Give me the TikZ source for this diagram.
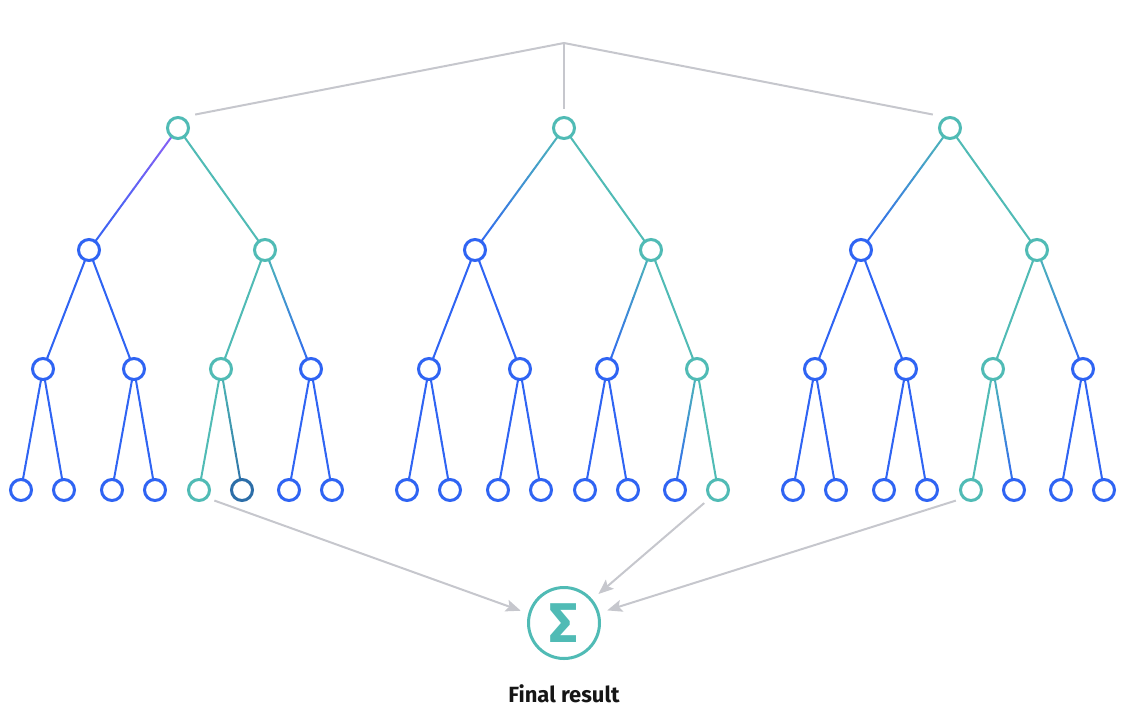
\documentclass[tikz,border=0pt]{standalone}
\usepackage{fontspec}
\setmainfont{Fira Sans}
\usetikzlibrary{calc,arrows.meta,backgrounds}

\definecolor{te}{HTML}{50BBB5}
\definecolor{bl}{HTML}{2F64F3}
\definecolor{dk}{HTML}{2C6EA8}
\definecolor{vi}{HTML}{9060F5}
\definecolor{gr}{HTML}{C6C7CD}
\definecolor{ink}{HTML}{161616}

\tikzset{
  vertex/.style={circle,draw=#1,fill=white,line width=3pt,minimum size=21pt,inner sep=0pt},
  branch/.style={line width=2pt,line cap=round},
  feed/.style={draw=gr,line width=2pt,-{Stealth[length=15pt,width=12pt,inset=3pt]},shorten <=7pt,shorten >=8pt}
}

% colour of each node, kept by name
\newcommand\setcol[2]{\expandafter\xdef\csname col#1\endcsname{#2}}
\newcommand\getcol[1]{\csname col#1\endcsname}

% branch from node #3 to node #4, colour #1 fading to colour #2
\newcommand\gradline[4]{%
  \begin{pgfonlayer}{background}
  \foreach \k in {0,...,9}{
    \pgfmathtruncatemacro\mix{95-10*\k}
    \draw[branch,draw=#1!\mix!#2] ($(#3)!\k/10!(#4)$) -- ($(#3)!\k/10+0.1!(#4)$);
  }
  \end{pgfonlayer}}
\newcommand\branchto[2]{\edef\ca{\getcol{#1}}\edef\cb{\getcol{#2}}\gradline{\ca}{\cb}{#1}{#2}}

% one tree: #1 name, #2 x of root, #3 first colour of left branch, #4 #5 #6 colours of the rows
\newcommand\drawtree[6]{%
  \node[vertex=te] (n#1) at (#2,128) {}; \setcol{n#1}{te}
  \foreach \c [count=\i] in {#4}{
    \pgfmathsetmacro\xx{#2+{-89,87}[\i-1]}
    \node[vertex=\c] (n#1b\i) at (\xx,250) {}; \setcol{n#1b\i}{\c}
    \ifnum\i=1 \gradline{#3}{\c}{n#1}{n#1b\i}\else \branchto{n#1}{n#1b\i}\fi
  }
  \foreach \c [count=\i] in {#5}{
    \pgfmathsetmacro\xx{#2+{-135,-44,43,133}[\i-1]}
    \pgfmathtruncatemacro\p{(\i+1)/2}
    \node[vertex=\c] (n#1c\i) at (\xx,369) {}; \setcol{n#1c\i}{\c}
    \branchto{n#1b\p}{n#1c\i}
  }
  \foreach \c [count=\i] in {#6}{
    \pgfmathsetmacro\xx{#2+{-157,-114,-66,-23,21,64,111,154}[\i-1]}
    \pgfmathtruncatemacro\p{(\i+1)/2}
    \node[vertex=\c] (n#1d\i) at (\xx,490) {}; \setcol{n#1d\i}{\c}
    \branchto{n#1c\p}{n#1d\i}
  }}

\begin{document}
\begin{tikzpicture}[x=1pt,y=-1pt]
\useasboundingbox (0,0) rectangle (1138,716);

\drawtree{1}{178}{vi}{bl,te}{bl,bl,te,bl}{bl,bl,bl,bl,te,dk,bl,bl}
\drawtree{2}{564}{te}{bl,te}{bl,bl,bl,te}{bl,bl,bl,bl,bl,bl,bl,te}
\drawtree{3}{950}{te}{bl,te}{bl,bl,te,bl}{bl,bl,bl,bl,te,bl,bl,bl}

% joins above the trees
\coordinate (top) at (564,43);
\draw[gr,line width=2pt,shorten >=12.7pt] (top) -- (n1.67);
\draw[gr,line width=2pt,shorten >=7pt] (top) -- (n2);
\draw[gr,line width=2pt,shorten >=12.7pt] (top) -- (n3.113);

\node[circle,draw=te,line width=3pt,minimum size=71pt,inner sep=0pt,text=te,
  font=\bfseries\fontsize{56}{56}\selectfont] (sum) at (564,623) {Σ};
\node[text=ink,font=\bfseries\fontsize{22}{22}\selectfont] (label) at (564,694) {Final result};

\draw[feed] (n1d5.-43) -- (sum.165);
\draw[feed] (n2d8.225) -- (sum.40);
\draw[feed] (n3d5.225) -- (sum.16);

\end{tikzpicture}
\end{document}
